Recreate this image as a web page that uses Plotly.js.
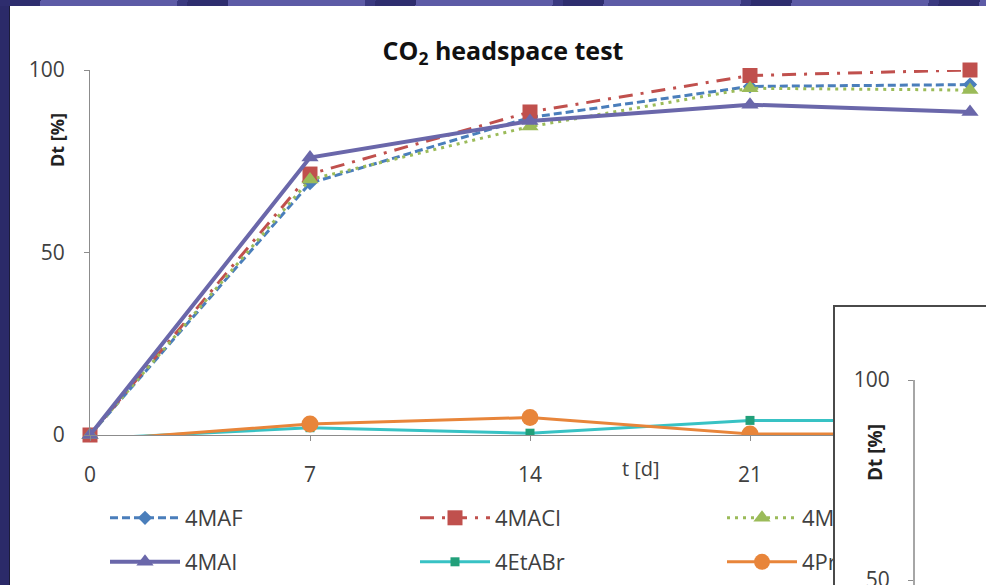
<!DOCTYPE html>
<html>
<head>
<meta charset="utf-8">
<script src="https://cdn.plot.ly/plotly-3.0.1.min.js"></script>
<style>
  html, body { margin: 0; padding: 0; width: 986px; height: 585px; overflow: hidden; }
  body { background: #2b2a69; position: relative; }
  #topstrip { position: absolute; left: 0; top: 0; width: 986px; height: 6px;
    background: repeating-linear-gradient(100deg, #2e2d6e 0 40px, #5d5ba6 40px 175px, #3a3980 175px 185px); }
  #sheet { position: absolute; left: 9px; top: 6px; width: 977px; height: 579px; background: #ffffff;
    border-left: 1px solid #1c1c3a; box-sizing: border-box; }
  #chart { position: absolute; left: 0; top: 0; width: 986px; height: 585px; }
  #inset { position: absolute; left: 833px; top: 305px; width: 160px; height: 290px; background: #ffffff;
    border-left: 2px solid #4a4a4a; border-top: 2px solid #4a4a4a; overflow: hidden; }
  #insetplot { position: absolute; left: 0; top: 0; width: 153px; height: 520px; }
</style>
</head>
<body>
<div id="topstrip"></div>
<div id="sheet"></div>
<div id="chart"></div>
<div id="inset"><div id="insetplot"></div></div>
<script>
// Sampling days
const days = [0, 7, 14, 21, 28];

// Degradation Dt [%] per compound
const names = ['4MAF', '4MACl', '4MABr', '4MAI', '4EtABr', '4PrABr'];
const dt4MAF   = [0, 69, 87, 95.5, 96];
const dt4MACl  = [0, 71.5, 88.5, 98.5, 100];
const dt4MABr  = [0, 70, 84.5, 95, 94.5];
const dt4MAI   = [0, 76, 86, 90.5, 88.5];
const dt4EtABr = [-1, 2, 0.5, 4, 4];
const dt4PrABr = [-1.5, 3, 4.8, 0.3, 0.3];

const yTicks = [0, 50, 100];

const FONT = '"Open Sans", Lato, sans-serif';
const AXIS_GREY = '#8c8c8c';
const TEXT = '#404040';

function series(name, y, color, dash, width, symbol, msize, mcolor, legend, clip) {
  return {
    type: 'scatter', mode: 'lines+markers', name: name,
    x: days, y: y,
    line: { color: color, width: width, dash: dash },
    marker: { symbol: symbol, size: msize, color: mcolor || color, line: { width: 0 } },
    legend: legend,
    cliponaxis: clip
  };
}

const traces = [
  series(names[0], dt4MAF,   '#4a7ebb', '8px,4px',            3,   'diamond',     11, null,      'legend',  false),
  series(names[1], dt4MACl,  '#c0504d', '14px,8px,3px,8px',   3,   'square',      15, null,      'legend2', false),
  series(names[2], dt4MABr,  '#9bbb59', '3px,5px',            3,   'triangle-up', 15, null,      'legend3', false),
  series(names[3], dt4MAI,   '#6a67aa', 'solid',              4,   'triangle-up', 15, null,      'legend4', false),
  series(names[4], dt4EtABr, '#38c2c4', 'solid',              3,   'square',      9,  '#22a07a', 'legend5', true),
  series(names[5], dt4PrABr, '#e8853a', 'solid',              3,   'circle',      17, null,      'legend6', true)
];

// One legend box per entry: three columns, two rows
function legendAt(xPix, yPix) {
  return {
    xref: 'container', yref: 'container',
    x: xPix / 986, xanchor: 'left', y: 1 - yPix / 585, yanchor: 'middle',
    itemwidth: 70,
    bgcolor: 'rgba(0,0,0,0)', font: { family: FONT, size: 22, color: TEXT }
  };
}

const layout = {
  width: 986, height: 585,
  margin: { l: 90, r: 16, t: 70, b: 150, autoexpand: false },
  paper_bgcolor: 'rgba(0,0,0,0)', plot_bgcolor: 'rgba(0,0,0,0)',
  font: { family: FONT, color: TEXT },
  title: {
    text: 'CO<sub>2</sub> headspace test',
    font: { family: FONT, size: 25, color: '#111111', weight: 'bold' },
    xref: 'container', yref: 'container', x: 503 / 986, xanchor: 'center',
    y: 1 - 51 / 585, yanchor: 'middle'
  },
  xaxis: {
    range: [0, 28], tickvals: days, ticktext: days.map(String), automargin: false,
    showgrid: false, zeroline: false, showline: true, linecolor: AXIS_GREY, linewidth: 1,
    ticks: 'outside', ticklen: 5, tickcolor: AXIS_GREY,
    tickfont: { family: FONT, size: 21, color: TEXT }, ticklabelstandoff: 16
  },
  yaxis: {
    range: [0, 100], tickvals: yTicks, automargin: false,
    showgrid: false, zeroline: false, showline: true, linecolor: AXIS_GREY, linewidth: 1,
    ticks: 'outside', ticklen: 5, tickcolor: AXIS_GREY,
    tickfont: { family: FONT, size: 21, color: TEXT }, ticklabelstandoff: 15
  },
  showlegend: true,
  legend:  legendAt(105, 518),
  legend2: legendAt(415, 518),
  legend3: legendAt(722, 518),
  legend4: legendAt(105, 562),
  legend5: legendAt(415, 562),
  legend6: legendAt(722, 562),
  annotations: [
    { text: 'Dt [%]', textangle: -90, xref: 'paper', yref: 'paper',
      x: (57 - 90) / 880, y: (435 - 140) / 365, xanchor: 'center', yanchor: 'middle',
      showarrow: false, font: { family: FONT, size: 18, color: '#222222', weight: 'bold' } },
    { text: 't [d]', xref: 'paper', yref: 'paper',
      x: (641 - 90) / 880, y: -(468 - 435) / 365, xanchor: 'center', yanchor: 'middle',
      showarrow: false, font: { family: FONT, size: 20, color: TEXT } }
  ]
};

Plotly.newPlot('chart', traces, layout, { staticPlot: true });

// Second chart panel, only its value axis reaches the visible area
const insetLayout = {
  width: 153, height: 520,
  margin: { l: 80, r: 10, t: 73, b: 47, autoexpand: false },
  paper_bgcolor: '#ffffff', plot_bgcolor: '#ffffff',
  showlegend: false,
  xaxis: { range: [0, 28], visible: false },
  yaxis: {
    range: [0, 100], tickvals: yTicks, automargin: false,
    showgrid: false, zeroline: false, showline: true, linecolor: '#a6a6a6', linewidth: 2,
    ticks: 'outside', ticklen: 5, tickcolor: AXIS_GREY,
    tickfont: { family: FONT, size: 21, color: TEXT }, ticklabelstandoff: 14
  },
  annotations: [
    { text: 'Dt [%]', textangle: -90, xref: 'paper', yref: 'paper',
      x: (40 - 80) / 63, y: (473 - 146) / 400, xanchor: 'center', yanchor: 'middle',
      showarrow: false, font: { family: FONT, size: 19, color: '#222222', weight: 'bold' } }
  ]
};
Plotly.newPlot('insetplot', [], insetLayout, { staticPlot: true });
</script>
</body>
</html>
